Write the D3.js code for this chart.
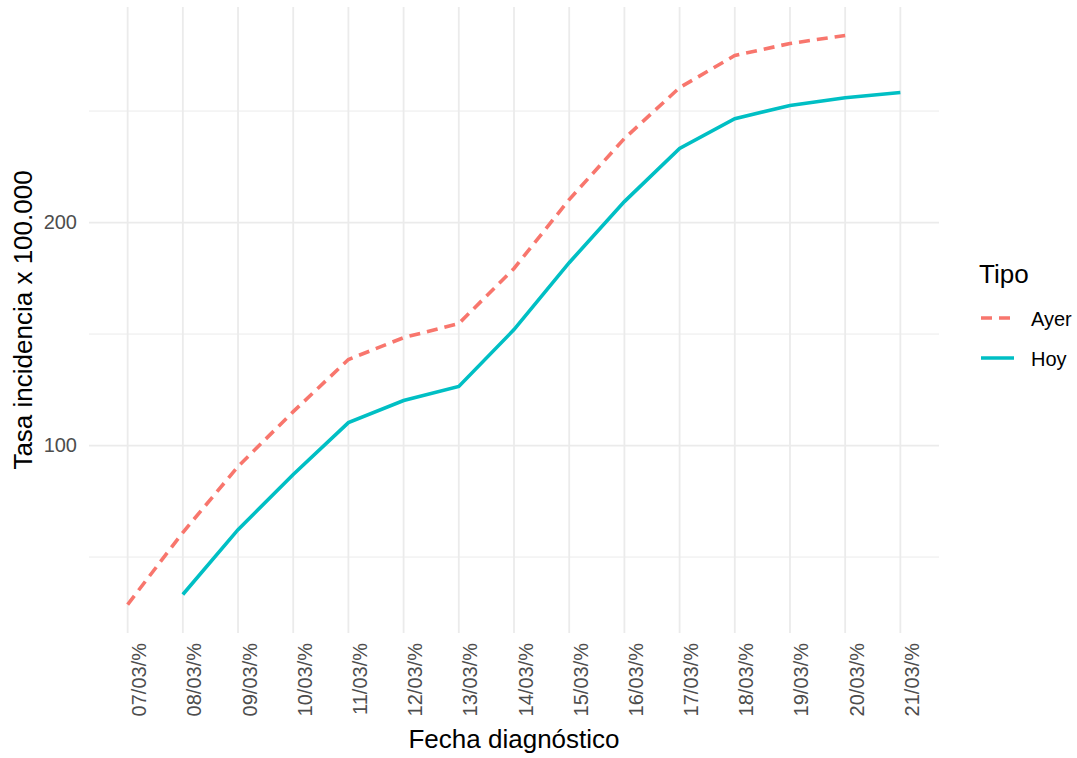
<!DOCTYPE html>
<html lang="es">
    <head>
        <meta charset="utf-8">
        <title>Tasa incidencia</title>
        <script src="https://cdn.jsdelivr.net/npm/d3@7"></script>
        <style>
            body { margin: 0; background: #fff; }
            text { font-family: "Liberation Sans", Arial, sans-serif; }
        </style>
    </head>
    <body>
        <script>
            // Data
            var fechas = ["07/03/%", "08/03/%", "09/03/%", "10/03/%", "11/03/%", "12/03/%", "13/03/%",
                          "14/03/%", "15/03/%", "16/03/%", "17/03/%", "18/03/%", "19/03/%", "20/03/%", "21/03/%"];
            var ayer = [28.7, 61, 90.6, 115.2, 138.6, 148.4, 154.7, 179.4, 210.3, 237.7, 260.5, 274.9, 280.3, 283.9, null];
            var hoy = [null, 33.2, 62.3, 87, 110.3, 120.2, 126.5, 152, 182, 209.4, 233.2, 246.6, 252.5, 256, 258.3];
            var yTicks = [100, 200];
            var yMinor = [50, 150, 250];
            var tipos = ["Ayer", "Hoy"];
            var colores = ["#F8766D", "#00BFC4"];

            var w = 1077, h = 758;
            // panel edges (note: "top" is reserved on window, so use pTop etc.)
            var pLeft = 89, pRight = 939, pTop = 7, pBottom = 633;

            var svg = d3.select("body").append("svg")
                .attr("width", w)
                .attr("height", h);

            var x = d3.scalePoint()
                .domain(fechas)
                .range([pLeft, pRight])
                .padding(0.7);

            // ggplot style 5% expansion
            var all = ayer.concat(hoy).filter(function(d) { return d != null; });
            var lo = d3.min(all), hi = d3.max(all), pad = (hi - lo) * 0.05;
            var y = d3.scaleLinear()
                .domain([lo - pad, hi + pad])
                .range([pBottom, pTop]);

            // grid
            svg.selectAll(".minor").data(yMinor).enter().append("line")
                .attr("x1", pLeft).attr("x2", pRight)
                .attr("y1", function(d) { return y(d); })
                .attr("y2", function(d) { return y(d); })
                .attr("stroke", "#ebebeb").attr("stroke-width", 1);
            svg.selectAll(".major").data(yTicks).enter().append("line")
                .attr("x1", pLeft).attr("x2", pRight)
                .attr("y1", function(d) { return y(d); })
                .attr("y2", function(d) { return y(d); })
                .attr("stroke", "#ebebeb").attr("stroke-width", 1.8);
            svg.selectAll(".vgrid").data(fechas).enter().append("line")
                .attr("x1", function(d) { return x(d); })
                .attr("x2", function(d) { return x(d); })
                .attr("y1", pTop).attr("y2", pBottom)
                .attr("stroke", "#ebebeb").attr("stroke-width", 1.8);

            // axes
            var yAxis = svg.append("g")
                .attr("transform", "translate(" + (pLeft - 4) + ",0)")
                .call(d3.axisLeft(y).tickValues(yTicks).tickSize(0).tickPadding(8));
            yAxis.select(".domain").remove();
            yAxis.selectAll("text")
                .attr("font-size", "20px")
                .attr("fill", "#4d4d4d")
                .style("font-family", "'Liberation Sans', Arial, sans-serif");

            var xAxis = svg.append("g")
                .attr("transform", "translate(0," + pBottom + ")")
                .call(d3.axisBottom(x).tickSize(0));
            xAxis.select(".domain").remove();
            xAxis.selectAll("text")
                .attr("font-size", "20px")
                .attr("fill", "#4d4d4d")
                .attr("text-anchor", "end")
                .attr("x", 0).attr("y", 0).attr("dy", null)
                .attr("transform", "translate(18,10) rotate(-90)")
                .style("font-family", "'Liberation Sans', Arial, sans-serif");

            // axis titles
            svg.append("text")
                .attr("x", (pLeft + pRight) / 2)
                .attr("y", 748)
                .attr("text-anchor", "middle")
                .attr("font-size", "26px")
                .attr("fill", "#000")
                .text("Fecha diagnóstico");
            svg.append("text")
                .attr("transform", "translate(32," + (pTop + pBottom) / 2 + ") rotate(-90)")
                .attr("text-anchor", "middle")
                .attr("font-size", "26px")
                .attr("fill", "#000")
                .text("Tasa incidencia x 100.000");

            // lines
            var line = d3.line()
                .defined(function(d) { return d.v != null; })
                .x(function(d) { return x(d.f); })
                .y(function(d) { return y(d.v); });

            var series = [ayer, hoy];
            series.forEach(function(vals, i) {
                var pts = fechas.map(function(f, j) { return { f: f, v: vals[j] }; });
                svg.append("path")
                    .datum(pts)
                    .attr("d", line)
                    .attr("fill", "none")
                    .attr("stroke", colores[i])
                    .attr("stroke-width", 3.6)
                    .attr("stroke-dasharray", i == 0 ? "11,7" : null);
            });

            // legend
            svg.append("text")
                .attr("x", 979).attr("y", 283)
                .attr("font-size", "26px")
                .attr("fill", "#000")
                .text("Tipo");
            var leg = svg.selectAll(".leg").data(tipos).enter().append("g")
                .attr("transform", function(d, i) { return "translate(981," + (318 + i * 40) + ")"; });
            leg.append("line")
                .attr("x1", 0).attr("x2", 33)
                .attr("stroke", function(d, i) { return colores[i]; })
                .attr("stroke-width", 3.6)
                .attr("stroke-dasharray", function(d, i) { return i == 0 ? "11,7" : null; });
            leg.append("text")
                .attr("x", 50).attr("y", 8)
                .attr("font-size", "20px")
                .attr("fill", "#000")
                .text(function(d) { return d; });
        </script>
    </body>
</html>
